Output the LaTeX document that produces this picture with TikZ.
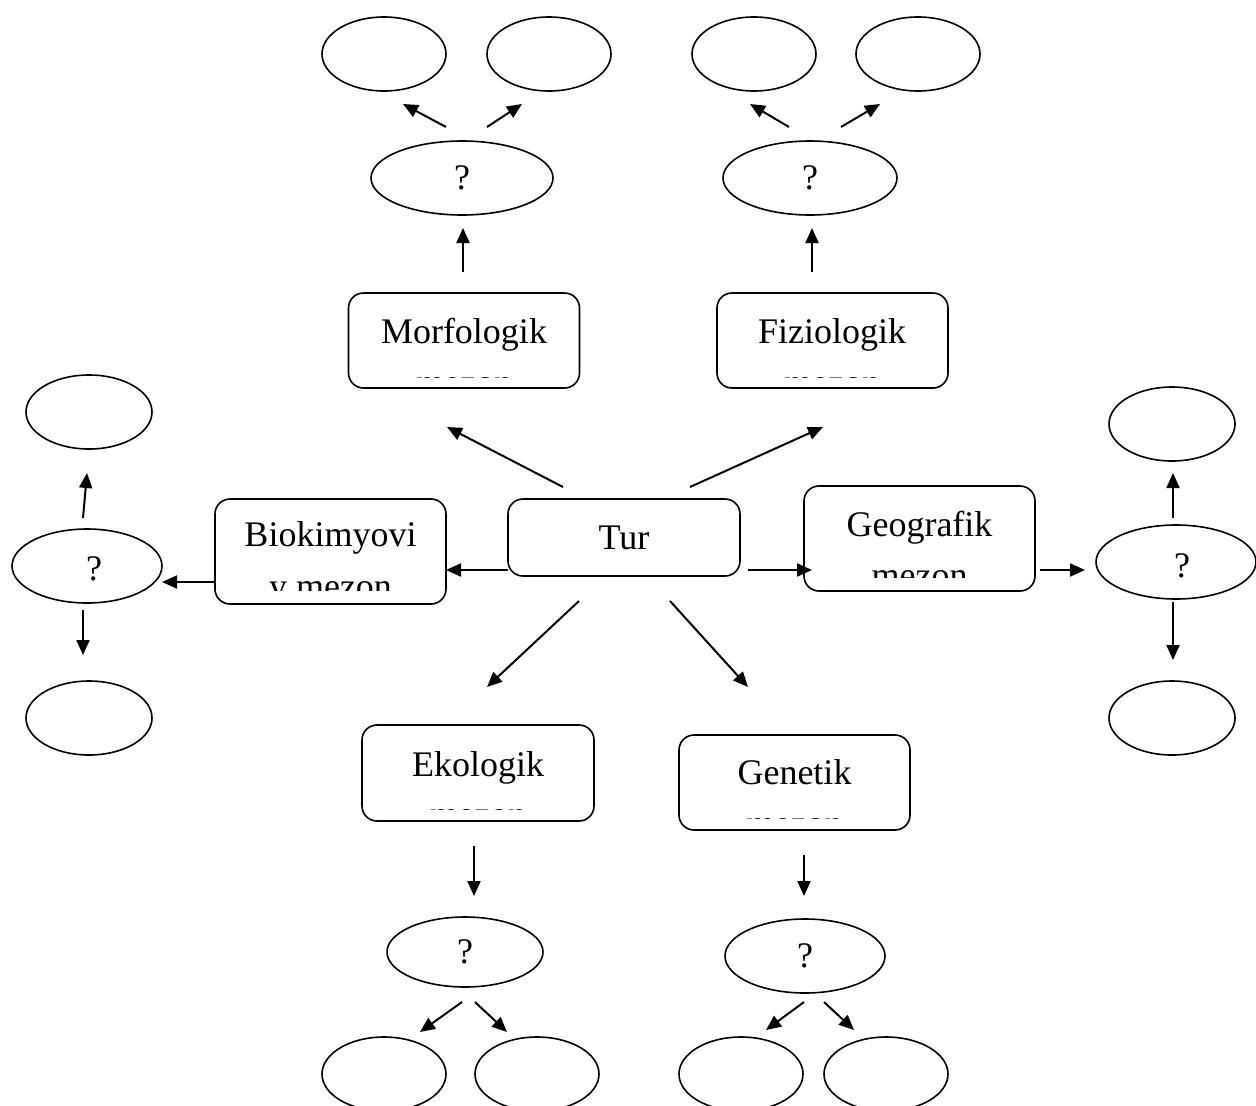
\documentclass[tikz,border=0pt]{standalone}
\usepackage{fontspec}
\setmainfont{Liberation Serif}
\usetikzlibrary{shapes.geometric,arrows.meta}
\begin{document}
\begin{tikzpicture}[x=1pt,y=-1pt,
  oval/.style={draw,ellipse,line width=1.6pt,inner sep=0pt,minimum width=124pt,minimum height=74pt,
    font=\fontsize{36}{40}\selectfont},
  qoval/.style={oval,minimum width=178pt},
  rbox/.style={draw,rounded corners=15pt,line width=1.6pt,inner sep=0pt,minimum width=231pt},
  lbl/.style={anchor=base,inner sep=0pt,font=\fontsize{36}{40}\selectfont},
  qlbl/.style={inner sep=0pt,font=\fontsize{36}{40}\selectfont},
  arr/.style={line width=2pt,-{Triangle[length=15pt,width=13pt]}}]
\useasboundingbox (0,0) rectangle (1256,1106);
\clip (0,0) rectangle (1256,1106);
\fill[white] (0,0) rectangle (1256,1106);

% ---------- boxes ----------
\node[rbox,minimum height=95pt] (morf) at (464,340.5) {};
\node[rbox,minimum height=95pt] (fiz) at (832.5,340.5) {};
\node[rbox,minimum width=232pt,minimum height=77pt] (tur) at (624,537.5) {};
\node[rbox,minimum height=105pt] (bio) at (330.5,551.5) {};
\node[rbox,minimum height=105pt] (geo) at (919.5,538.5) {};
\node[rbox,minimum width=232pt,minimum height=96pt] (eko) at (478,773) {};
\node[rbox,minimum height=95pt] (gen) at (794.5,782.5) {};

\node[lbl] (morfT) at (464,343) {Morfologik};
\begin{scope}\clip (348,293) rectangle (580,377);
\node[lbl] (morfU) at (464,394.3) {mezon};\end{scope}
\node[lbl] (fizT) at (832,343) {Fiziologik};
\begin{scope}\clip (717,293) rectangle (948,377);
\node[lbl] (fizU) at (832,394.3) {mezon};\end{scope}
\node[lbl] (turT) at (624,549) {Tur};
\node[lbl] (bioT) at (330.5,546) {Biokimyovi};
\begin{scope}\clip (215,499) rectangle (446,590);
\node[lbl] (bioU) at (330.5,598) {y mezon};\end{scope}
\node[lbl] (geoT) at (919.5,536) {Geografik};
\begin{scope}\clip (804,486) rectangle (1035,577);
\node[lbl] (geoU) at (919.5,587) {mezon};\end{scope}
\node[lbl] (ekoT) at (478,776) {Ekologik};
\begin{scope}\clip (362,725) rectangle (594,809);
\node[lbl] (ekoU) at (478,826.5) {mezon};\end{scope}
\node[lbl] (genT) at (794.5,784) {Genetik};
\begin{scope}\clip (679,735) rectangle (910,818);
\node[lbl] (genU) at (794.5,835.5) {mezon};\end{scope}

% ---------- ellipses ----------
\node[oval] (m1) at (384,54) {};
\node[oval] (m2) at (549,54) {};
\node[oval] (f1) at (754,54) {};
\node[oval] (f2) at (918,54) {};
\node[qoval,minimum width=182pt] (mq) at (462,178) {?};
\node[qoval,minimum width=174pt] (fq) at (810,178) {?};
\node[oval,minimum width=126pt] (bt) at (89,412) {};
\node[qoval,minimum width=150pt] (bq) at (87,566) {};
\node[qlbl] (bqT) at (94,569) {?};
\node[oval,minimum width=126pt] (bb) at (89,718) {};
\node[oval,minimum width=126pt] (gt) at (1172,424) {};
\node[qoval,minimum width=160pt] (gq) at (1176,562) {};
\node[qlbl] (gqT) at (1182,566) {?};
\node[oval,minimum width=126pt] (gb) at (1172,718) {};
\node[qoval,minimum width=156pt,minimum height=70pt] (eq) at (465,952) {?};
\node[qoval,minimum width=160pt] (nq) at (805,956) {?};
\node[oval] (e1) at (384,1074) {};
\node[oval] (e2) at (537,1074) {};
\node[oval] (n1) at (741,1074) {};
\node[oval] (n2) at (886,1074) {};

% ---------- arrow end points ----------
\coordinate (muA) at (463,272); \coordinate (muB) at (463,228);
\coordinate (mlA) at (446,127); \coordinate (mlB) at (403,104);
\coordinate (mrA) at (487,127); \coordinate (mrB) at (522,104);
\coordinate (fuA) at (812,272); \coordinate (fuB) at (812,228);
\coordinate (flA) at (789,127); \coordinate (flB) at (750,104);
\coordinate (frA) at (841,127); \coordinate (frB) at (880,104);
\coordinate (tulA) at (563,487); \coordinate (tulB) at (447,427);
\coordinate (turA) at (690,487); \coordinate (turB) at (823,427);
\coordinate (tlA) at (508,570); \coordinate (tlB) at (446,570);
\coordinate (trA) at (748,570); \coordinate (trB) at (812,570);
\coordinate (tdlA) at (579,601); \coordinate (tdlB) at (487,687);
\coordinate (tdrA) at (670,601); \coordinate (tdrB) at (748,687);
\coordinate (blA) at (215,582); \coordinate (blB) at (162,582);
\coordinate (buA) at (83,518); \coordinate (buB) at (87,473);
\coordinate (bdA) at (83,610); \coordinate (bdB) at (83,655);
\coordinate (grA) at (1040,570); \coordinate (grB) at (1085,570);
\coordinate (guA) at (1173,518); \coordinate (guB) at (1173,473);
\coordinate (gdA) at (1173,602); \coordinate (gdB) at (1173,660);
\coordinate (edA) at (474,846); \coordinate (edB) at (474,896);
\coordinate (elA) at (462,1002); \coordinate (elB) at (420,1032);
\coordinate (erA) at (475,1002); \coordinate (erB) at (507,1032);
\coordinate (ndA) at (804,855); \coordinate (ndB) at (804,896);
\coordinate (nlA) at (804,1002); \coordinate (nlB) at (766,1030);
\coordinate (nrA) at (824,1002); \coordinate (nrB) at (854,1030);

% ---------- arrows ----------
\foreach \a in {mu,ml,mr,fu,fl,fr,tul,tur,tl,tr,tdl,tdr,bl,bu,bd,gr,gu,gd,ed,el,er,nd,nl,nr}
  \draw[arr] (\a A) -- (\a B);
\end{tikzpicture}
\end{document}
